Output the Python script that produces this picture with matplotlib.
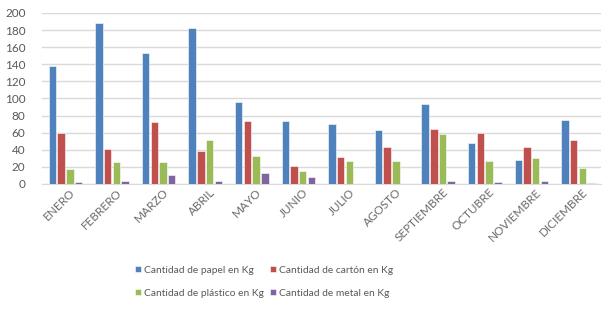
import matplotlib
matplotlib.use("Agg")
import matplotlib.pyplot as plt
import matplotlib.transforms as mtransforms
import numpy as np

plt.rcParams['font.family'] = ['Lato', 'DejaVu Sans']

months = ["ENERO", "FEBRERO", "MARZO", "ABRIL", "MAYO", "JUNIO", "JULIO",
          "AGOSTO", "SEPTIEMBRE", "OCTUBRE", "NOVIEMBRE", "DICIEMBRE"]
papel = [138, 188, 153, 182, 96, 74, 70, 63, 94, 48, 28, 75]
carton = [60, 41, 72, 39, 73, 21, 31, 43, 64, 60, 43, 51]
plastico = [17, 26, 26, 51, 33, 15, 27, 27, 58, 27, 30, 18]
metal = [2, 3, 10, 3, 13, 8, 0, 0, 3, 2, 3, 1]
series_names = ["Cantidad de papel en Kg", "Cantidad de cartón en Kg",
                "Cantidad de plástico en Kg", "Cantidad de metal en Kg"]
colors = ["#4F81BD", "#C0504D", "#9BBB59", "#8064A2"]
yticks = [0, 20, 40, 60, 80, 100, 120, 140, 160, 180, 200]

fig = plt.figure(figsize=(6.03, 3.09), dpi=100)
ax = fig.add_axes([0.07, 0.405, 0.927, 0.553])

x = np.arange(len(months))
step = 0.187
width = 0.16
handles = []
for i, (vals, name, c) in enumerate(zip([papel, carton, plastico, metal], series_names, colors)):
    h = ax.bar(x + (i - 1.5) * step, vals, width=width, color=c, label=name,
               edgecolor="white", linewidth=0.4, zorder=3)
    handles.append(h)

ax.set_xlim(-0.5, len(months) - 0.5)
ax.set_ylim(0, 200)
ax.set_yticks(yticks)
ax.yaxis.grid(True, color="#D9D9D9", linewidth=1.0, zorder=0)
for s in ["top", "right", "left"]:
    ax.spines[s].set_visible(False)
ax.spines["bottom"].set_color("#D9D9D9")
ax.tick_params(axis="both", length=0, labelsize=8.5, colors="#595959")
ax.tick_params(axis="y", pad=12)
ax.tick_params(axis="x", pad=2)
ax.set_xticks(x)
ax.set_xticklabels(months, rotation=45, ha="right", rotation_mode="anchor",
                   fontsize=8.5, color="#6B6B6B")
offset = mtransforms.ScaledTranslation(4 / 100, 0, fig.dpi_scale_trans)
for lbl in ax.get_xticklabels():
    lbl.set_transform(lbl.get_transform() + offset)

order = [0, 2, 1, 3]
fig.legend([handles[i] for i in order], [series_names[i] for i in order],
           loc="upper center", bbox_to_anchor=(0.438, 0.17), ncol=2, frameon=False,
           fontsize=7.4, handlelength=0.55, handleheight=0.55, handletextpad=0.3,
           columnspacing=0.6, labelspacing=1.35, labelcolor="#595959")

fig.savefig("out.png", dpi=100)
